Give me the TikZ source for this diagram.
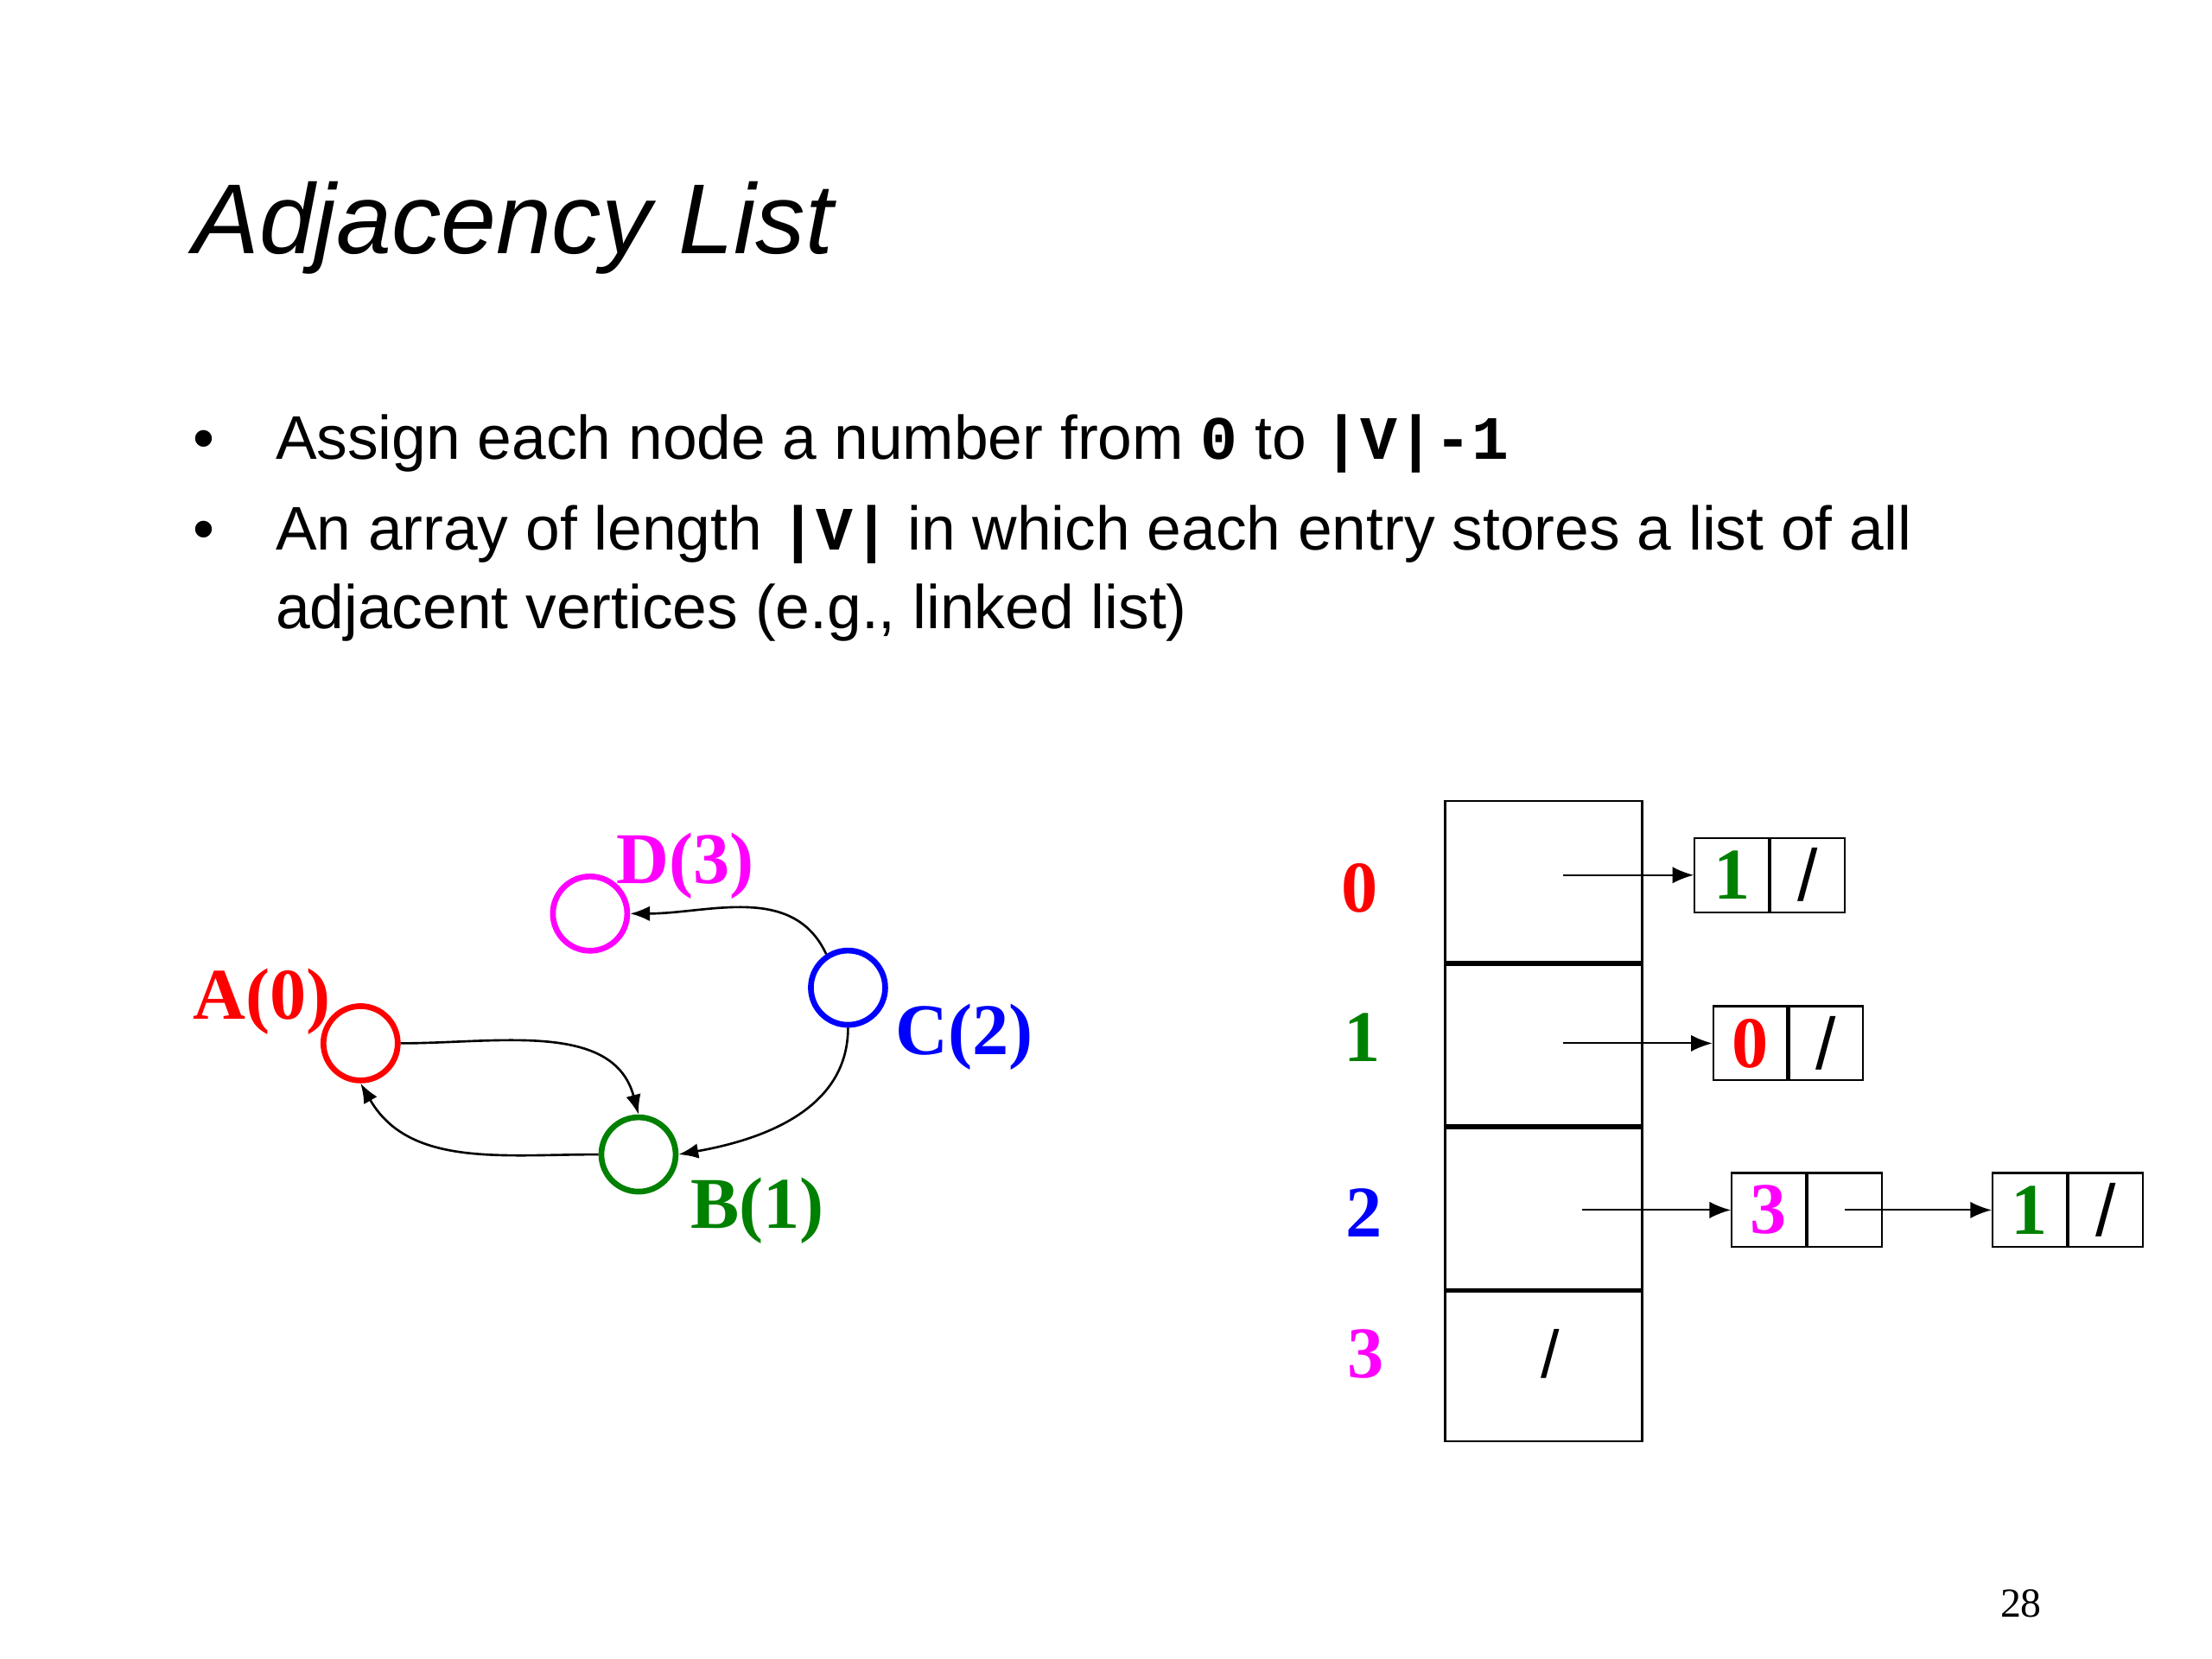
\documentclass[tikz,border=0pt]{standalone}
\usepackage{fontspec}
\setmainfont{Liberation Serif}
\setsansfont{Liberation Sans}
\setmonofont{Liberation Mono}
\usetikzlibrary{arrows.meta,positioning,shapes}
\definecolor{vzero}{rgb}{1,0,0}
\definecolor{vone}{rgb}{0,0.5,0}
\definecolor{vtwo}{rgb}{0,0,1}
\definecolor{vthree}{rgb}{1,0,1}

\begin{document}
\begin{tikzpicture}[
      x=0.0165cm, y=-0.0165cm,
      vertex/.style={circle,draw,line width=1.9pt,minimum size=0.86cm,inner sep=0},
      vname/.style={anchor=base west,inner sep=0,font=\fontsize{24}{24}\selectfont\bfseries},
      arc/.style={-{Latex[length=6.5pt,width=5pt]},line width=0.75pt},
      cell/.style={draw,line width=0.8pt,minimum width=2.277cm,minimum height=1.8645cm,inner sep=0},
      idx/.style={inner sep=0,font=\fontsize{24}{24}\selectfont\bfseries},
      elem/.style={draw=black,line width=0.6pt,minimum size=0.858cm,inner sep=0,font=\fontsize{24}{24}\selectfont\bfseries},
      nil/.style={font=\sffamily\mdseries\fontsize{24}{24}\selectfont},
      ptr/.style={-{Latex[length=7pt,width=5.5pt]},line width=0.6pt},
      body/.style={anchor=base west,inner sep=0,align=left,font=\sffamily\fontsize{20.3}{25.8}\selectfont},
    ]
    \useasboundingbox (0,0) rectangle (1552,1164);
    %
    \node (title) [anchor=base west,inner sep=0,font=\sffamily\itshape\fontsize{32.7}{32.7}\selectfont]
      at (135,178) {Adjacency List};
    \node (b1) [body] at (135,322) {\textbullet};
    \node (t1) [body] at (193,322)
      {Assign each node a number from {\ttfamily\bfseries 0} to {\ttfamily\bfseries |V|-1}};
    \node (b2) [body] at (135,386) {\textbullet};
    % base of a two-line node is its last line
    \node (t2) [body] at (193,441)
      {An array of length {\ttfamily\bfseries |V|} in which each entry stores a list of all\\
       adjacent vertices (e.g., linked list)};
    %
    \node (A) [vertex,vzero] at (253,732) {};
    \node (B) [vertex,vone] at (448,810) {};
    \node (C) [vertex,vtwo] at (595,693) {};
    \node (D) [vertex,vthree] at (414,641) {};
    %
    \node (Aname) [vname,vzero] at (135,715) {A(0)};
    \node (Bname) [vname,vone] at (484,862) {B(1)};
    \node (Cname) [vname,vtwo] at (628,740) {C(2)};
    \node (Dname) [vname,vthree] at (432,620) {D(3)};
    %
    \draw [arc] (A.east) to [out=0,in=105] (B.north);
    \draw [arc] (B.west) to [out=180,in=-60] (A.south);
    \draw [arc] (C.south) to [out=-90,in=10] (B.east);
    \draw [arc] (C.123) to [out=115,in=0] (D.east);
    %
    \node (c0) [cell] at (1083,618.5) {};
    \node (c1) [cell,below=0pt of c0] {};
    \node (c2) [cell,below=0pt of c1] {};
    \node (c3) [cell,below=0pt of c2,minimum height=1.7325cm] {};
    %
    \node (i0) [idx,vzero] at (954,623) {0};
    \node (i1) [idx,vone] at (956,728) {1};
    \node (i2) [idx,vtwo] at (957,851) {2};
    \node (i3) [idx,vthree] at (958,950) {3};
    %
    \node (v0) [elem,text=vone] at (1215,614) {1};
    \node (n0) [elem,nil,right=0pt of v0] {/};
    \node (v1) [elem,text=vzero] at (1228,732) {0};
    \node (n1) [elem,nil,right=0pt of v1] {/};
    \node (v2) [elem,text=vthree] at (1241,849) {3};
    \node (n2) [elem,right=0pt of v2] {};
    \node (w2) [elem,text=vone] at (1424,849) {1};
    \node (m2) [elem,nil,right=0pt of w2] {/};
    \node (nil3) [font=\sffamily\fontsize{22}{22}\selectfont] at (1088,950) {/};
    %
    \coordinate (p0) at (1097,614);
    \coordinate (p1) at (1097,732);
    \coordinate (p2) at (1110,849);
    \draw [ptr] (p0) -- (v0.west);
    \draw [ptr] (p1) -- (v1.west);
    \draw [ptr] (p2) -- (v2.west);
    \draw [ptr] (n2.center) -- (w2.west);
    %
    \node (page) [font=\fontsize{13.6}{13.6}\selectfont] at (1418,1125) {28};
  \end{tikzpicture}
\end{document}
